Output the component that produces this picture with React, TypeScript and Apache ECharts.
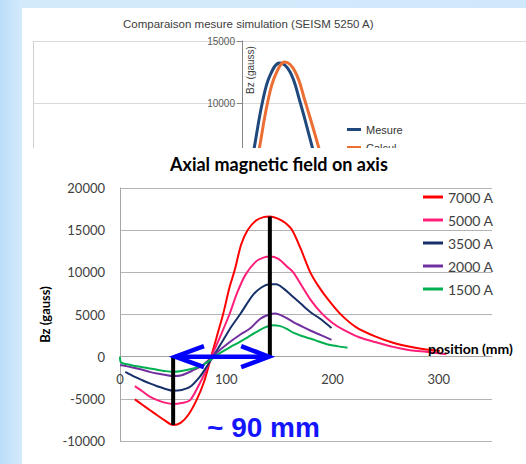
import React, { useEffect, useRef } from 'react';
import * as echarts from 'echarts';

// ---- background chart (partially hidden) ----
const bgTitle = 'Comparaison mesure simulation (SEISM 5250 A)';
const mesurePos = [-10, 5, 12, 20, 27, 36, 46, 55, 67, 80, 95];
const mesureBz = [-2000, 3000, 6530, 10240, 12260, 13230, 12500, 10240, 6530, 2500, -1000];
const calculPos = [-5, 10, 17, 25, 32, 41, 51, 60, 73, 86, 100];
const calculBz = [-2000, 3000, 6530, 10240, 12260, 13300, 12500, 10240, 6530, 2500, -1000];
const bgVisibleTicks = [10000, 15000];

// ---- foreground chart ----
const fgTitle = 'Axial magnetic field on axis';
const seriesNames = ['7000 A', '5000 A', '3500 A', '2000 A', '1500 A'];

const pos7000 = [14, 21, 28, 35, 42, 50, 57, 64, 72, 79, 86, 92, 97, 103, 108, 114, 120, 128, 135, 141, 148, 155, 162, 170, 179, 187, 195, 207, 222, 240, 257, 273, 288, 301];
const bz7000 = [-5070, -5700, -6330, -6950, -7550, -8100, -7850, -6950, -5150, -3000, 100, 2800, 5030, 8200, 10300, 13300, 15000, 16150, 16550, 16630, 16400, 15900, 15000, 12800, 10000, 8300, 6900, 5100, 3500, 2400, 1650, 1170, 850, 690];

const pos5000 = [14, 21, 28, 35, 42, 50, 58, 66, 75, 80, 86, 94, 103, 110, 118, 128, 135, 141, 149, 157, 163, 171, 179, 190, 200, 210, 225, 241, 257, 273, 288, 307];
const bz5000 = [-3490, -4100, -4750, -5150, -5450, -5620, -5500, -5150, -3170, -1900, 0, 2300, 5030, 7500, 9700, 11300, 11750, 11870, 11600, 10700, 10000, 8400, 6800, 5100, 4000, 3200, 2300, 1700, 1160, 770, 570, 300];

const pos3500 = [5, 14, 21, 28, 35, 42, 50, 58, 66, 75, 80, 86, 97, 105, 113, 125, 133, 141, 147, 154, 163, 170, 179, 188, 199];
const bz3500 = [-1800, -2400, -2800, -3170, -3500, -3800, -4040, -3950, -3570, -2390, -1500, -300, 1950, 3600, 5030, 7300, 8200, 8580, 8580, 8070, 7080, 6300, 5300, 4520, 3400];

const pos2000 = [0, 7, 14, 21, 28, 35, 42, 50, 58, 69, 78, 86, 95, 104, 113, 122, 132, 141, 146, 155, 163, 171, 179, 189, 199];
const bz2000 = [-1000, -1150, -1350, -1550, -1800, -2000, -2150, -2300, -2200, -1600, -1000, -100, 900, 1800, 2600, 3300, 4500, 5030, 5110, 4700, 4100, 3600, 3100, 2550, 2000];

const pos1500 = [0, 1, 7, 14, 21, 28, 35, 42, 50, 58, 69, 78, 86, 95, 104, 112, 120, 128, 136, 144, 150, 157, 163, 171, 179, 187, 194, 204, 214];
const bz1500 = [0, -700, -900, -1100, -1250, -1400, -1550, -1700, -1800, -1700, -1400, -1000, -300, 500, 1160, 1700, 2300, 2900, 3450, 3730, 3650, 3300, 2850, 2450, 2150, 1800, 1500, 1250, 1060];

const xTicks = [0, 100, 200, 300];

// annotation marks (data units)
const leftMarker = [[50, 0], [50, -8100]];
const rightMarker = [[141, 0], [141, 16630]];
const arrowShaft = [[52, 0], [140, 0]];
const arrowHeadLeft = [[79, 1250], [52, 0], [79, -1250]];
const arrowHeadRight = [[114, 1250], [140, 0], [114, -1250]];
const distanceLabel = '~ 90 mm';

const zip = (xs: number[], ys: number[]) => xs.map((x, i) => [x, ys[i]]);

const fgColors = ['#ff0000', '#ff1f78', '#17306a', '#7030a0', '#00b050'];
const fgData = [zip(pos7000, bz7000), zip(pos5000, bz5000), zip(pos3500, bz3500), zip(pos2000, bz2000), zip(pos1500, bz1500)];

const FONT = 'Lato';

function buildOption() {
  const fgSeries = seriesNames.map((name, i) => ({
    name,
    type: 'line',
    xAxisIndex: 1,
    yAxisIndex: 1,
    data: fgData[i],
    smooth: 0.3,
    symbol: 'none',
    lineStyle: { color: fgColors[i], width: 2 },
    itemStyle: { color: fgColors[i] },
    z: 10,
  }));
  const annot = (data: number[][], color: string, width: number, z: number) => ({
    type: 'line',
    xAxisIndex: 1,
    yAxisIndex: 1,
    data,
    symbol: 'none',
    silent: true,
    lineStyle: { color, width, cap: 'butt', join: 'miter' },
    z,
  });
  return {
    animation: false,
    textStyle: { fontFamily: FONT },
    title: [
      {
        text: bgTitle,
        left: 123,
        top: 18,
        padding: 0,
        textStyle: { fontFamily: 'Liberation Sans', fontSize: 11.5, fontWeight: 'normal', color: '#404040' },
      },
      {
        text: fgTitle,
        left: 170,
        top: 155,
        padding: 0,
        z: 10,
        textStyle: { fontFamily: FONT, fontSize: 18, fontWeight: 'bold', color: '#000' },
      },
    ],
    legend: [
      {
        data: ['Mesure', 'Calcul'],
        orient: 'vertical',
        left: 347,
        top: 124,
        padding: 0,
        itemWidth: 14,
        itemHeight: 3,
        itemGap: 7,
        icon: 'rect',
        z: 1,
        textStyle: { fontFamily: 'Liberation Sans', fontSize: 11, color: '#333' },
      },
      {
        data: seriesNames,
        orient: 'vertical',
        left: 421,
        top: 186,
        padding: [3, 5, 3, 2],
        backgroundColor: '#fff',
        itemWidth: 20,
        itemHeight: 3,
        itemGap: 7,
        icon: 'rect',
        z: 10,
        textStyle: { fontFamily: FONT, fontSize: 14, lineHeight: 16, color: '#404040' },
      },
    ],
    grid: [
      { left: 33, top: 41, right: 0, height: 186, show: false },
      { left: 120, right: 34, top: 188, bottom: 23 },
    ],
    xAxis: [
      { gridIndex: 0, type: 'value', min: -200, max: 271.77, show: false },
      {
        gridIndex: 1,
        type: 'value',
        min: 0,
        max: 350,
        interval: 100,
        z: 10,
        offset: -84.33,
        axisLine: { show: true, onZero: false, lineStyle: { color: '#a6a6a6', width: 1 } },
        axisTick: { show: false },
        splitLine: { show: false },
        axisLabel: {
          margin: 16,
          fontSize: 13,
          color: '#404040',
          fontFamily: FONT,
          showMaxLabel: false,
          formatter: (v: number) => (xTicks.includes(v) ? String(v) : ''),
        },
      },
    ],
    yAxis: [
      {
        gridIndex: 0,
        type: 'value',
        min: 0,
        max: 15000,
        interval: 5000,
        offset: -209,
        axisLine: { show: true, onZero: false, lineStyle: { color: '#868686' } },
        axisTick: { show: true, length: 5 },
        axisLabel: {
          fontSize: 10,
          color: '#595959',
          margin: 7,
          fontFamily: 'Liberation Sans',
          formatter: (v: number) => (bgVisibleTicks.includes(v) ? String(v) : ''),
        },
        splitLine: { lineStyle: { color: '#d9d9d9' } },
      },
      {
        gridIndex: 1,
        type: 'value',
        min: -10000,
        max: 20000,
        interval: 5000,
        z: 10,
        name: 'Bz (gauss)',
        nameLocation: 'middle',
        nameGap: 68,
        nameTextStyle: { fontFamily: FONT, fontSize: 13, fontWeight: 'bold', color: '#000' },
        axisLine: { show: true, onZero: false, lineStyle: { color: '#a6a6a6' } },
        axisTick: { show: false },
        axisLabel: { fontSize: 13, color: '#404040', margin: 15, fontFamily: FONT, formatter: (v: number) => String(v) },
        splitLine: { lineStyle: { color: '#b3b3b3', width: 1 } },
      },
    ],
    series: [
      {
        name: 'Mesure',
        type: 'line',
        xAxisIndex: 0,
        yAxisIndex: 0,
        data: zip(mesurePos, mesureBz),
        smooth: 0.4,
        symbol: 'none',
        lineStyle: { color: '#1f497d', width: 3 },
        itemStyle: { color: '#1f497d' },
        z: 2,
      },
      {
        name: 'Calcul',
        type: 'line',
        xAxisIndex: 0,
        yAxisIndex: 0,
        data: zip(calculPos, calculBz),
        smooth: 0.4,
        symbol: 'none',
        lineStyle: { color: '#eb6e35', width: 3 },
        itemStyle: { color: '#eb6e35' },
        z: 2,
      },
      ...fgSeries,
      annot(leftMarker, '#000', 4, 11),
      annot(rightMarker, '#000', 4, 11),
      annot(arrowShaft, '#0000ff', 4.5, 12),
      annot(arrowHeadLeft, '#0000ff', 4.5, 12),
      annot(arrowHeadRight, '#0000ff', 4.5, 12),
    ],
    graphic: [
      {
        type: 'line',
        z: 1,
        shape: { x1: 33.5, y1: 41, x2: 33.5, y2: 148 },
        style: { stroke: '#d0d0d0', lineWidth: 1 },
      },
      {
        type: 'text',
        x: 250,
        y: 70,
        rotation: Math.PI / 2,
        z: 1,
        style: { text: 'Bz (gauss)', fontFamily: 'Liberation Sans', fontSize: 10, fill: '#404040', align: 'center', verticalAlign: 'middle' },
      },
      {
        type: 'rect',
        z: 5,
        shape: { x: 22, y: 148, width: 504, height: 316 },
        style: { fill: '#ffffff' },
      },
      {
        type: 'text',
        x: 428,
        y: 348,
        z: 15,
        style: { text: 'position (mm)', fontFamily: FONT, fontSize: 14, fontWeight: 'bold', fill: '#000', align: 'left', verticalAlign: 'middle' },
      },
      {
        type: 'text',
        x: 207,
        y: 427,
        z: 15,
        style: { text: distanceLabel, fontFamily: 'Liberation Sans', fontSize: 28, fontWeight: 'bold', fill: '#1414ff', align: 'left', verticalAlign: 'middle' },
      },
    ],
  };
}

export default function App() {
  const ref = useRef<HTMLDivElement>(null);
  useEffect(() => {
    if (!ref.current) return;
    const chart = echarts.init(ref.current, null, { renderer: 'svg' });
    chart.setOption(buildOption() as any);
    return () => chart.dispose();
  }, []);
  return (
    <div
      style={{
        position: 'fixed',
        left: 0,
        top: 0,
        width: 526,
        height: 464,
        background: 'linear-gradient(90deg, #bcdef8 0px, #d3eafb 22px, #d2eafb 60%, #cfe8fb 100%)',
      }}
    >
      <div style={{ position: 'absolute', left: 22, top: 8, width: 504, height: 456, background: '#fff' }} />
      <div ref={ref} style={{ position: 'absolute', left: 0, top: 0, width: 526, height: 464 }} />
    </div>
  );
}
